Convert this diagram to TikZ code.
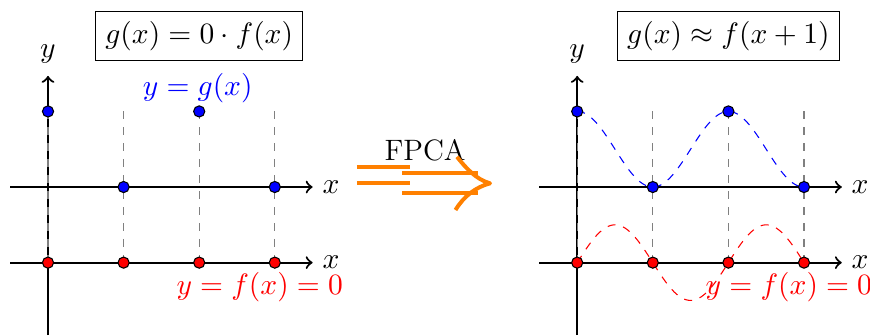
\RequirePackage{fix-cm}
\documentclass[tikz,border=0pt]{standalone}
\usetikzlibrary{arrows}
\begin{document}
\begin{tikzpicture}[x=1cm,y=1cm,
  every node/.style={font=\fontsize{11.1}{13.3}\selectfont},
  axis/.style={thick,->},
  guide/.style={gray,dashed,thin},
  bdot/.style={circle,draw=black,fill=blue,inner sep=0pt,minimum size=4.2pt},
  rdot/.style={circle,draw=black,fill=red,inner sep=0pt,minimum size=4.2pt},
  eqbox/.style={draw,thin,inner sep=3.6pt},
  fpca/.style={orange,line width=1.5pt}]
\useasboundingbox (-0.635,-1.958) rectangle (10.873,2.474);
\foreach \ox/\nm in {0/L,7/R}{
  \begin{scope}[xshift=\ox cm]
    \coordinate (\nm yb) at (0,-1.96);
    \coordinate (\nm yt) at (0,1.47);
    \coordinate (\nm ua) at (-0.5,0);
    \coordinate (\nm ub) at (3.5,0);
    \coordinate (\nm la) at (-0.5,-1);
    \coordinate (\nm lb) at (3.5,-1);
    \draw[axis] (\nm yb) -- (\nm yt) node[above=1pt] (\nm ylab) {$y$};
    \draw[axis] (\nm ua) -- (\nm ub) node[right] (\nm xlab1) {$x$};
    \draw[axis] (\nm la) -- (\nm lb) node[right] (\nm xlab2) {$x$};
    \foreach \i in {0,1,2,3}{
      \coordinate (\nm g\i) at (\i,1);
      \coordinate (\nm h\i) at (\i,-1);
      \draw[guide] (\nm g\i) -- (\nm h\i);
    }
  \end{scope}
}
% right panel curves
\begin{scope}[xshift=7cm]
  \draw[blue,dashed,thin] plot[domain=0:3,samples=120,smooth] (\x,{0.5+0.5*cos(180*\x)});
  \draw[red,dashed,thin] plot[domain=0:3,samples=120,smooth] (\x,{-1+0.5*sin(180*\x)});
\end{scope}
% left dots
\node[bdot] (lb0) at (0,1) {};
\node[bdot] (lb1) at (1,0) {};
\node[bdot] (lb2) at (2,1) {};
\node[bdot] (lb3) at (3,0) {};
\foreach \i in {0,1,2,3}{ \node[rdot] (lr\i) at (\i,-1) {}; }
% right dots
\node[bdot] (rb0) at (7,1) {};
\node[bdot] (rb1) at (8,0) {};
\node[bdot] (rb2) at (9,1) {};
\node[bdot] (rb3) at (10,0) {};
\foreach \i in {0,1,2,3}{ \node[rdot] (rr\i) at (7+\i,-1) {}; }
% labels
\node[eqbox] (boxL) at (2,2.0) {$g(x)=0\cdot f(x)$};
\node[eqbox] (boxR) at (9,2.0) {$g(x)\approx f(x+1)$};
\node[blue] (gl) at (1.98,1.31) {$y=g(x)$};
\node[red] (fl) at (2.8,-1.32) {$y=f(x)=0$};
\node[red] (fr) at (9.8,-1.32) {$y=f(x)=0$};
% FPCA arrow
\node (fpcalab) at (4.987,0.489) {FPCA};
\coordinate (s1a) at (4.087,0.259); \coordinate (s1b) at (4.788,0.259);
\coordinate (s2a) at (4.087,0.055); \coordinate (s2b) at (4.788,0.055);
\coordinate (l1a) at (4.683,0.180); \coordinate (l1b) at (5.69,0.180);
\coordinate (l2a) at (4.683,-0.076); \coordinate (l2b) at (5.69,-0.076);
\coordinate (ha) at (5.41,0.40);
\coordinate (tip) at (5.847,0.049);
\coordinate (hb) at (5.39,-0.304);
\draw[fpca] (s1a) -- (s1b);
\draw[fpca] (s2a) -- (s2b);
\draw[fpca] (l1a) -- (l1b);
\draw[fpca] (l2a) -- (l2b);
\draw[fpca,line join=round] (ha) .. controls (5.52,0.26) and (5.66,0.10) .. (tip)
   .. controls (5.66,0.0) and (5.50,-0.12) .. (hb);
\end{tikzpicture}
\end{document}
